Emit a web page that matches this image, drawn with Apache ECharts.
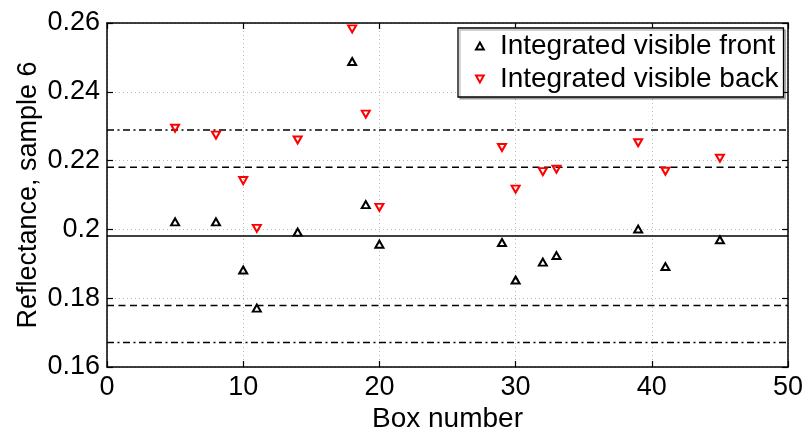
<!DOCTYPE html>
<html>
<head>
<meta charset="utf-8">
<script src="https://cdn.jsdelivr.net/npm/echarts@6/dist/echarts.min.js"></script>
<style>html,body{margin:0;padding:0;background:#fff}#c{width:808px;height:428px}</style>
</head>
<body>
<div id="c"></div>
<script>
const boxes = [5, 8, 10, 11, 14, 18, 19, 20, 29, 30, 32, 33, 39, 41, 45];
const frontValues = [0.2022, 0.2022, 0.1882, 0.1771, 0.1992, 0.2488, 0.2072, 0.1957, 0.1962, 0.1853, 0.1905, 0.1924, 0.2001, 0.1892, 0.1970];
const backValues = [0.2294, 0.2274, 0.2142, 0.2003, 0.2260, 0.2583, 0.2335, 0.2064, 0.2238, 0.2117, 0.2168, 0.2175, 0.2252, 0.2169, 0.2207];
const refLevels = [0.2289, 0.2181, 0.1981, 0.1779, 0.1671];
const refStyles = ['dashdot', 'dashed', 'solid', 'dashed', 'dashdot'];
const seriesNames = ['Integrated visible front', 'Integrated visible back'];
const xRange = [0, 50];
const yRange = [0.16, 0.26];

const FONT = '"Liberation Sans", Arial, sans-serif';
const dashMap = { dashdot: [7, 3.5, 2, 3.5], dashed: [7, 4.5], solid: 'solid' };

const refSeries = refLevels.map((v, i) => ({
  type: 'line',
  data: [[xRange[0], v], [xRange[1], v]],
  symbol: 'none',
  silent: true,
  lineStyle: { color: '#000', width: 1.5, type: dashMap[refStyles[i]] },
  z: 1
}));

const chart = echarts.init(document.getElementById('c'), null, { renderer: 'canvas' });
chart.setOption({
  animation: false,
  backgroundColor: '#fff',
  grid: { left: 107, right: 20, top: 23, bottom: 61, containLabel: false, outerBoundsMode: 'none' },
  xAxis: [{
    type: 'value', min: xRange[0], max: xRange[1], interval: 10,
    name: 'Box number', nameLocation: 'middle', nameGap: 38, nameMoveOverlap: false,
    nameTextStyle: { fontFamily: FONT, fontSize: 28, color: '#000' },
    axisLine: { onZero: false, lineStyle: { color: '#000', width: 1.5 } },
    axisTick: { inside: true, length: 6, lineStyle: { color: '#000', width: 1.2 } },
    axisLabel: { fontFamily: FONT, fontSize: 27, color: '#000', margin: 7 },
    splitLine: { show: true, lineStyle: { color: '#b8b8b8', width: 1, type: [1, 3] } }
  }, {
    type: 'value', position: 'top', min: xRange[0], max: xRange[1], interval: 10,
    axisLine: { onZero: false, lineStyle: { color: '#000', width: 1.5 } },
    axisTick: { inside: true, length: 6, lineStyle: { color: '#000', width: 1.2 } },
    axisLabel: { show: false }, splitLine: { show: false }
  }],
  yAxis: [{
    type: 'value', min: yRange[0], max: yRange[1], interval: 0.02,
    name: 'Reflectance, sample 6', nameLocation: 'middle', nameGap: 65, nameRotate: 90,
    nameMoveOverlap: false,
    nameTextStyle: { fontFamily: FONT, fontSize: 27, color: '#000' },
    axisLine: { onZero: false, lineStyle: { color: '#000', width: 1.5 } },
    axisTick: { inside: true, length: 6, lineStyle: { color: '#000', width: 1.2 } },
    axisLabel: { fontFamily: FONT, fontSize: 27, color: '#000', margin: 7,
      formatter: v => String(+v.toFixed(2)) },
    splitLine: { show: true, lineStyle: { color: '#b8b8b8', width: 1, type: [1, 3] } }
  }, {
    type: 'value', position: 'right', min: yRange[0], max: yRange[1], interval: 0.02,
    axisLine: { onZero: false, lineStyle: { color: '#000', width: 1.5 } },
    axisTick: { inside: true, length: 6, lineStyle: { color: '#000', width: 1.2 } },
    axisLabel: { show: false }, splitLine: { show: false }
  }],
  legend: {
    data: [
      { name: seriesNames[0], icon: 'path://M5,0 L10,9 L0,9 Z' },
      { name: seriesNames[1], icon: 'path://M0,0 L10,0 L5,9 Z' }
    ],
    orient: 'vertical', left: 458, top: 28,
    padding: [4, 5, 4, 17],
    itemWidth: 8, itemHeight: 7, itemGap: 5,
    backgroundColor: '#fff', borderColor: '#000', borderWidth: 1.3, borderRadius: 0,
    shadowColor: 'rgba(0,0,0,0.25)', shadowOffsetX: 2, shadowOffsetY: 2, shadowBlur: 0,
    itemStyle: { borderWidth: 2 },
    textStyle: { fontFamily: FONT, fontSize: 28, color: '#000', padding: [0, 0, 0, 11] }
  },
  series: [
    ...refSeries,
    {
      name: seriesNames[0], type: 'scatter',
      data: boxes.map((b, i) => [b, frontValues[i]]),
      symbol: 'triangle', symbolSize: [8, 7],
      itemStyle: { color: 'rgba(255,255,255,0)', borderColor: '#000', borderWidth: 2, opacity: 1 },
      z: 5
    },
    {
      name: seriesNames[1], type: 'scatter',
      data: boxes.map((b, i) => [b, backValues[i]]),
      symbol: 'triangle', symbolRotate: 180, symbolSize: [8, 7],
      itemStyle: { color: 'rgba(255,255,255,0)', borderColor: '#ff0000', borderWidth: 2, opacity: 1 },
      z: 5
    }
  ]
});
</script>
</body>
</html>
